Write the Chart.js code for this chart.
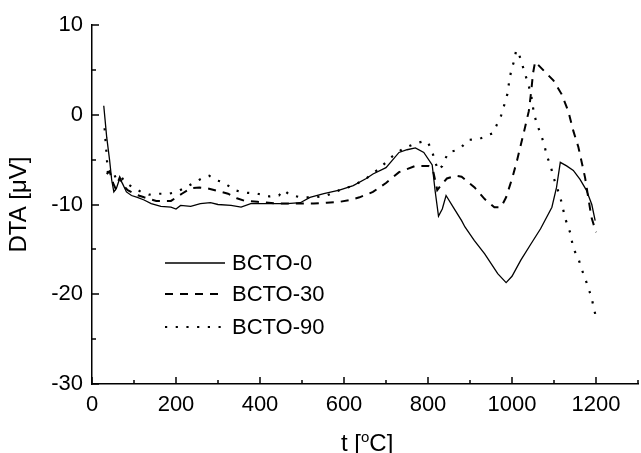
<!DOCTYPE html>
<html>
<head>
<meta charset="utf-8">
<script src="https://cdn.jsdelivr.net/npm/chart.js@4.4.1/dist/chart.umd.min.js"></script>
<style>
  html, body { margin: 0; padding: 0; background: #fff; overflow: hidden; }
  #wrap { width: 646px; height: 453px; }
</style>
</head>
<body>
<div id="wrap"><canvas id="dtaChart" width="646" height="453"></canvas></div>
<script>
// values (t in degC, DTA in uV)
const t0 = [28, 35, 42, 47, 52, 58, 66, 73, 82, 94, 108, 124, 141, 164, 188, 200, 211, 235, 258, 282, 300, 331, 355, 378, 402, 434, 465, 496, 519, 552, 589, 622, 653, 669, 700, 731, 750, 770, 790, 810, 817, 825, 834, 843, 860, 880, 888, 910, 935, 966, 986, 1000, 1021, 1045, 1068, 1095, 1106, 1115, 1130, 1146, 1162, 1177, 1190, 1198]
const dta0 = [1.0, -2.5, -5.1, -7.3, -8.6, -8.2, -7.1, -7.7, -8.6, -9.0, -9.2, -9.5, -9.9, -10.2, -10.3, -10.5, -10.1, -10.2, -9.9, -9.8, -10.0, -10.1, -10.3, -9.9, -9.9, -9.9, -9.9, -9.8, -9.2, -8.8, -8.4, -7.9, -7.1, -6.6, -5.9, -4.2, -3.9, -3.7, -4.2, -5.6, -8.5, -11.3, -10.5, -9.0, -10.3, -11.8, -12.5, -14.0, -15.5, -17.7, -18.7, -18.0, -16.2, -14.4, -12.7, -10.3, -8.1, -5.3, -5.7, -6.2, -7.2, -8.4, -10.0, -11.8]

const t30 = [35, 42, 50, 56, 66, 75, 85, 105, 124, 153, 188, 214, 235, 256, 275, 300, 324, 345, 364, 394, 441, 480, 528, 559, 590, 613, 637, 669, 700, 731, 770, 801, 812, 822, 832, 845, 865, 880, 911, 935, 958, 974, 986, 1001, 1012, 1029, 1040, 1046, 1050, 1055, 1076, 1099, 1118, 1134, 1146, 1158, 1174, 1189, 1200]
const dta30 = [-6.6, -6.3, -7.6, -8.2, -7.0, -7.9, -8.4, -8.9, -9.2, -9.6, -9.6, -8.8, -8.2, -8.1, -8.2, -8.5, -8.8, -9.3, -9.6, -9.7, -9.9, -9.9, -9.9, -9.8, -9.7, -9.5, -9.2, -8.6, -7.6, -6.4, -5.7, -5.7, -6.2, -8.4, -7.8, -7.1, -6.8, -6.9, -8.1, -9.4, -10.3, -10.3, -9.2, -7.0, -5.1, -1.8, 0.4, 2.7, 4.6, 5.9, 4.9, 3.8, 2.3, 0.4, -1.8, -3.6, -7.0, -11.4, -13.1]

const t90 = [30, 34, 38, 48, 58, 66, 78, 97, 117, 136, 160, 183, 202, 223, 246, 265, 279, 296, 312, 324, 340, 355, 371, 394, 422, 445, 457, 470, 496, 528, 559, 589, 622, 653, 684, 716, 740, 770, 786, 799, 810, 817, 825, 834, 848, 864, 880, 895, 923, 939, 953, 963, 974, 981, 989, 993, 998, 1005, 1010, 1017, 1029, 1036, 1045, 1052, 1059, 1068, 1076, 1083, 1092, 1099, 1115, 1127, 1139, 1146, 1158, 1165, 1174, 1181, 1189, 1200]
const dta90 = [-1.5, -4.0, -6.6, -7.0, -6.8, -6.6, -7.5, -8.1, -8.6, -8.9, -8.8, -8.8, -8.6, -8.1, -7.5, -7.0, -6.8, -7.3, -7.5, -7.9, -8.4, -8.6, -8.7, -8.8, -9.1, -9.0, -8.4, -8.9, -9.2, -9.2, -9.0, -8.4, -7.9, -7.1, -6.0, -4.6, -3.8, -3.2, -3.0, -3.0, -4.1, -5.3, -6.2, -5.7, -4.2, -4.0, -3.6, -2.8, -2.7, -2.3, -2.1, -1.2, -0.1, 1.0, 2.3, 3.6, 4.9, 6.0, 7.2, 6.7, 4.9, 3.8, 2.4, 0.2, -1.0, -2.1, -3.2, -4.6, -5.7, -7.0, -9.2, -11.6, -13.2, -14.9, -16.0, -17.1, -18.2, -19.2, -20.3, -22.6]

const seriesNames = ["BCTO-0", "BCTO-30", "BCTO-90"]
const xTicks = [0, 200, 400, 600, 800, 1000, 1200]
const yTicks = [-30, -20, -10, 0, 10]

const fontFamily = "'Liberation Sans', Arial, sans-serif"
Chart.defaults.font.family = fontFamily
Chart.defaults.color = '#000'

function toPoints(xs, ys) {
    return xs.map((x, i) => ({ x: x, y: ys[i] }))
}

// ticks point into the plot, minor ones shorter
const inwardTicks = {
    id: 'inwardTicks',
    afterDraw(chart) {
        let ctx = chart.ctx
        let xs = chart.scales.x
        let ys = chart.scales.y
        ctx.save()
        ctx.strokeStyle = '#000'
        ctx.lineWidth = 1.5
        xs.ticks.forEach(tk => {
            let px = Math.round(xs.getPixelForValue(tk.value))
            let len = xTicks.includes(tk.value) ? 7 : 4
            ctx.beginPath()
            ctx.moveTo(px, xs.top)
            ctx.lineTo(px, xs.top - len)
            ctx.stroke()
        })
        ys.ticks.forEach(tk => {
            let py = Math.round(ys.getPixelForValue(tk.value))
            let len = yTicks.includes(tk.value) ? 7 : 4
            ctx.beginPath()
            ctx.moveTo(ys.right, py)
            ctx.lineTo(ys.right + len, py)
            ctx.stroke()
        })

        // x title with a raised "o"
        ctx.fillStyle = '#000'
        ctx.textBaseline = 'alphabetic'
        ctx.textAlign = 'left'
        let x = 341, base = 451
        ctx.font = '24px ' + fontFamily
        ctx.fillText('t [', x, base)
        x += ctx.measureText('t [').width
        ctx.font = '15px ' + fontFamily
        ctx.fillText('o', x, base - 9)
        x += ctx.measureText('o').width
        ctx.font = '24px ' + fontFamily
        ctx.fillText('C]', x, base)

        // legend inside the plot
        let rows = [263, 294, 327]
        chart.data.datasets.forEach((ds, i) => {
            ctx.beginPath()
            ctx.lineWidth = ds.borderWidth
            ctx.setLineDash(ds.borderDash || [])
            ctx.moveTo(165, rows[i])
            ctx.lineTo(225, rows[i])
            ctx.stroke()
            ctx.setLineDash([])
            ctx.font = '22px ' + fontFamily
            ctx.textBaseline = 'middle'
            ctx.fillText(ds.label, 232, rows[i] + 1)
        })
        ctx.restore()
    }
}

var chart = new Chart("dtaChart", {
    type: "scatter",
    data: {
        datasets: [{
            label: seriesNames[0],
            data: toPoints(t0, dta0),
            borderColor: '#000',
            borderWidth: 1.3
        }, {
            label: seriesNames[1],
            data: toPoints(t30, dta30),
            borderColor: '#000',
            borderWidth: 2,
            borderDash: [8, 7]
        }, {
            label: seriesNames[2],
            data: toPoints(t90, dta90),
            borderColor: '#000',
            borderWidth: 2.2,
            borderDash: [2.2, 8.5]
        }]
    },
    options: {
        responsive: false,
        animation: false,
        devicePixelRatio: 1,
        showLine: true,
        elements: { point: { radius: 0 }, line: { tension: 0 } },
        layout: { padding: { top: 25, right: 0, left: 0, bottom: 0 } },
        plugins: { legend: { display: false }, tooltip: { enabled: false } },
        scales: {
            x: {
                type: 'linear',
                min: 0,
                max: 1300,
                grid: { drawOnChartArea: false, drawTicks: false },
                border: { display: true, color: '#000', width: 1.5 },
                ticks: {
                    stepSize: 100,
                    autoSkip: false,
                    maxRotation: 0,
                    padding: 8,
                    font: { size: 22 },
                    callback: v => xTicks.includes(v) ? String(v) : ''
                },
                afterFit: s => { s.height = 69 }
            },
            y: {
                min: -30,
                max: 10,
                grid: { drawOnChartArea: false, drawTicks: false },
                border: { display: true, color: '#000', width: 1.5 },
                ticks: {
                    stepSize: 5,
                    autoSkip: false,
                    padding: 9,
                    font: { size: 22 },
                    callback: v => yTicks.includes(v) ? String(v) : ''
                },
                title: {
                    display: true,
                    text: 'DTA [\u03BCV]',
                    font: { size: 24 },
                    padding: { top: 5, bottom: 0 }
                },
                afterFit: s => { s.width = 92 }
            }
        }
    },
    plugins: [inwardTicks]
});
</script>
</body>
</html>
